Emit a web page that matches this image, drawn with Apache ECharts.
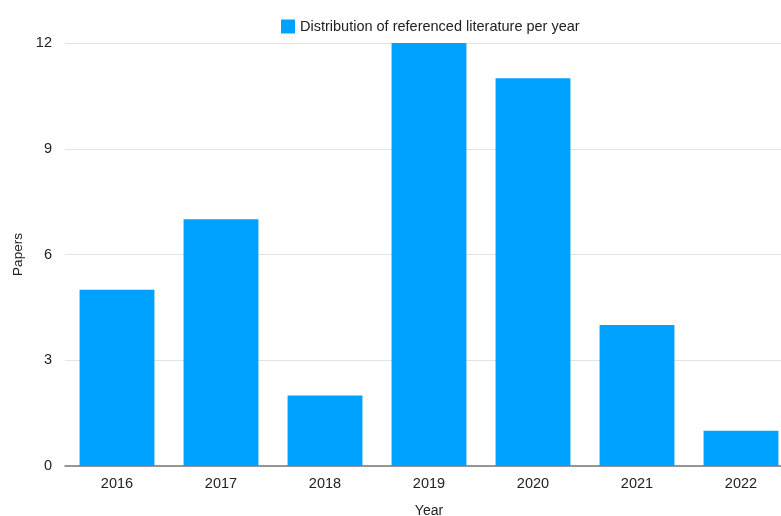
<!DOCTYPE html>
<html><head><meta charset="utf-8">
<script src="https://cdn.jsdelivr.net/npm/echarts@6/dist/echarts.min.js"></script>
<style>html,body{margin:0;padding:0;background:#fff}#c{width:781px;height:516px}</style>
</head><body><div id="c"></div>
<script>
const categories = ['2016','2017','2018','2019','2020','2021','2022'];
const papers = [5, 7, 2, 12, 11, 4, 1];
const yTicks = [0, 3, 6, 9, 12];
const seriesName = 'Distribution of referenced literature per year';

const chart = echarts.init(document.getElementById('c'));
const font = 'Liberation Sans, Arial, Helvetica, sans-serif';
chart.setOption({
  animation: false,
  textStyle: { fontFamily: font },
  legend: {
    data: [seriesName], top: 14, left: 276,
    icon: 'rect',
    itemWidth: 14, itemHeight: 14, itemGap: 8,
    textStyle: { fontSize: 14.5, color: '#222', fontFamily: font }
  },
  grid: { left: 65, right: -12, top: 43, bottom: 50, containLabel: false, outerBoundsMode: 'none' },
  xAxis: {
    type: 'category', data: categories,
    name: 'Year', nameLocation: 'middle', nameGap: 38,
    nameTextStyle: { fontSize: 14, color: '#222', fontFamily: font },
    axisLine: { lineStyle: { color: '#777', width: 1.5 } },
    axisTick: { show: false },
    axisLabel: { fontSize: 14.5, color: '#222', margin: 10, fontFamily: font }
  },
  yAxis: {
    type: 'value', min: yTicks[0], max: yTicks[yTicks.length-1], interval: 3,
    name: 'Papers', nameLocation: 'middle', nameGap: 39, nameRotate: 90,
    nameTextStyle: { fontSize: 13.5, color: '#222', fontFamily: font },
    axisLine: { show: false }, axisTick: { show: false },
    axisLabel: { fontSize: 14.5, color: '#222', margin: 13, fontFamily: font },
    splitLine: { lineStyle: { color: '#e3e3e3', width: 1 } }
  },
  series: [{
    name: seriesName, type: 'bar', data: papers,
    barCategoryGap: '28%',
    itemStyle: { color: '#00A2FF' }
  }]
});
</script></body></html>
